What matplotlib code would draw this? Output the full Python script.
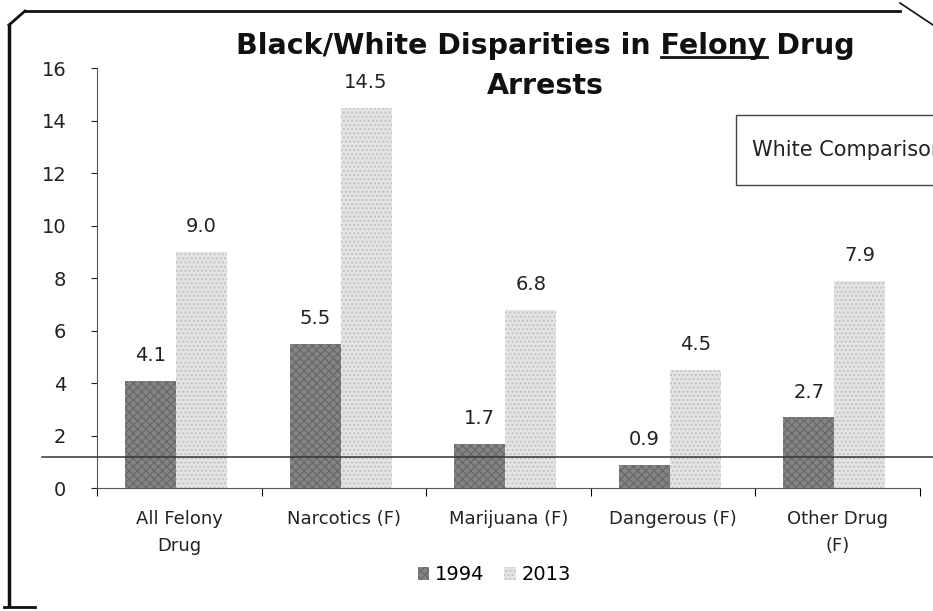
import numpy as np
import matplotlib
matplotlib.use("Agg")
import matplotlib.pyplot as plt
from matplotlib.patches import Patch, Rectangle
from matplotlib.lines import Line2D

plt.rcParams['font.family'] = ['DejaVu Sans']

# ------------------------------
# data
# ------------------------------
categories = ["All Felony\nDrug", "Narcotics (F)", "Marijuana (F)", "Dangerous (F)", "Other Drug\n(F)"]
vals_1994 = [4.1, 5.5, 1.7, 0.9, 2.7]
vals_2013 = [9.0, 14.5, 6.8, 4.5, 7.9]
white_line = 1.18
y_ticks = [0, 2, 4, 6, 8, 10, 12, 14, 16]

fig = plt.figure(figsize=(9.33, 6.11), dpi=100)
ax = fig.add_axes([0.104, 0.201, 0.882, 0.687])

x = np.arange(len(categories))
w = 0.31
b1 = ax.bar(x - w / 2 - 0.02, vals_1994, w, color="#858585", edgecolor="#6a6a6a",
            hatch="xxxx", linewidth=0, label="1994")
b2 = ax.bar(x + w / 2 - 0.02, vals_2013, w, color="#e4e4e4", edgecolor="#c2c2c2",
            hatch="....", linewidth=0, label="2013")

for bars, vals in [(b1, vals_1994), (b2, vals_2013)]:
    for r, v in zip(bars, vals):
        ax.text(r.get_x() + r.get_width() / 2, v + 0.6, f"{v:.1f}",
                ha="center", va="bottom", fontsize=14, color="#222")

ax.set_xlim(-0.5, len(categories) - 0.5)
ax.set_ylim(0, 16)
ax.set_yticks(y_ticks)
ax.tick_params(axis="y", labelsize=14, length=4, width=0.8, pad=18, colors="#222")
ax.set_xticks(np.arange(len(categories) + 1) - 0.5, minor=True)
ax.set_xticks(x)
ax.set_xticklabels(categories, fontsize=13, color="#222", linespacing=1.6)
ax.tick_params(axis="x", which="major", length=0, pad=16)
ax.tick_params(axis="x", which="minor", length=6, width=0.8, direction="out")
for s in ["top", "right"]:
    ax.spines[s].set_visible(False)
ax.spines["left"].set_color("#555")
ax.spines["bottom"].set_color("#555")

# white comparison line, runs beyond the axes
fig.add_artist(Line2D([0.045, 1.0], [1 - 457 / 611] * 2, color="#333", lw=1.1))

# title, "Felony" underlined
t1 = "Black/White Disparities in Felony Drug"
tsize = 20.5
title = fig.text(0.585, 0.925, t1, ha="center", va="center", fontsize=tsize,
                 fontweight="bold", color="#111")
fig.text(0.585, 0.86, "Arrests", ha="center", va="center", fontsize=tsize,
         fontweight="bold", color="#111")
fig.canvas.draw()
r = fig.canvas.get_renderer()
bb = title.get_window_extent(r)
pre = fig.text(0, 0, "Black/White Disparities in ", fontsize=tsize, fontweight="bold")
fel = fig.text(0, 0, "Felony", fontsize=tsize, fontweight="bold")
pw = pre.get_window_extent(r).width
fw = fel.get_window_extent(r).width
pre.remove()
fel.remove()
W, H = fig.bbox.width, fig.bbox.height
x0 = (bb.x0 + pw) / W
x1 = (bb.x0 + pw + fw) / W
uy = (bb.y0 + 3) / H
fig.add_artist(Line2D([x0, x1], [uy, uy], color="#111", lw=2))

# white comparison box (clipped by right edge)
fig.add_artist(Rectangle((736 / 933, 1 - 185 / 611), 0.3, 70 / 611, fill=False,
                         edgecolor="#444", lw=1))
fig.text(752 / 933, 1 - 150 / 611, "White Comparison", fontsize=15, va="center", color="#222")

# legend
h = [Patch(facecolor="#858585", edgecolor="#6a6a6a", hatch="xxxx", lw=0, label="1994"),
     Patch(facecolor="#e4e4e4", edgecolor="#c2c2c2", hatch="....", lw=0, label="2013")]
fig.legend(handles=h, loc="center", bbox_to_anchor=(0.53, 1 - 575 / 611), ncol=2,
           frameon=False, fontsize=14, handlelength=0.6, handleheight=0.6,
           handletextpad=0.3, columnspacing=1.0)

# page frame
fig.add_artist(Line2D([9 / 933, 9 / 933], [1 - 605 / 611, 1 - 25 / 611], color="#111", lw=2.5))
fig.add_artist(Line2D([25 / 933, 900 / 933], [1 - 11 / 611] * 2, color="#111", lw=2))
fig.add_artist(Line2D([9 / 933, 25 / 933], [1 - 25 / 611, 1 - 11 / 611], color="#111", lw=2))
fig.add_artist(Line2D([900 / 933, 933 / 933], [1 - 3 / 611, 1 - 25 / 611], color="#111", lw=1.2))
fig.add_artist(Line2D([4 / 933, 35 / 933], [1 - 607 / 611] * 2, color="#111", lw=2))

fig.savefig("out.png", dpi=100)
